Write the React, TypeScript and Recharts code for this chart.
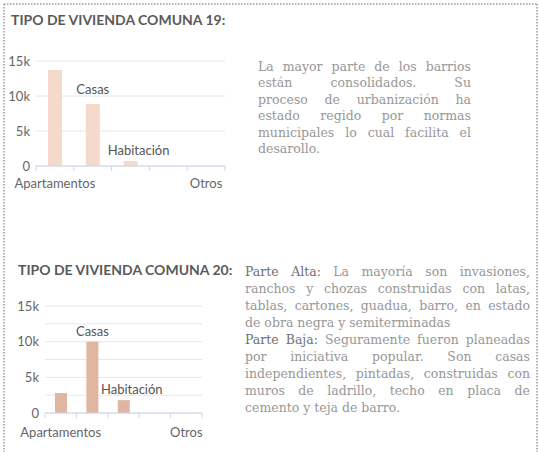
import React from 'react';
import { BarChart, Bar, XAxis, YAxis, CartesianGrid, LabelList } from 'recharts';

const categories = ['Apartamentos', 'Casas', 'Habitación', 'Rancho', 'Otros'];
const comuna19 = [13700, 8850, 700, 0, 0];
const comuna20 = [2800, 10000, 1800, 0, 0];
const ticks19 = [0, 5000, 10000, 15000];
const ticks20 = [0, 2500, 5000, 7500, 10000, 12500, 15000];
const shownAxisLabels = ['Apartamentos', 'Otros'];
const barLabels = ['Casas', 'Habitación'];

const note19 = [
  'La mayor parte de los barrios',
  'están consolidados. Su',
  'proceso de urbanización ha',
  'estado regido por normas',
  'municipales lo cual facilita el',
  'desarollo.',
];

const SANS = 'Lato, "Open Sans", sans-serif';
const SERIF = '"DejaVu Serif", serif';

const buildRows = (values: number[]) => categories.map((name, i) => ({ name, value: values[i] }));

const fmtK = (v: number) => (v === 0 ? '0' : v % 5000 === 0 ? `${v / 1000}k` : '');

const CategoryTick = (props: any) => {
  const { x, y, payload, index, band, labelDy } = props;
  const last = index === categories.length - 1;
  return (
    <g>
      <line x1={x - band / 2} x2={x - band / 2} y1={y - 8} y2={y - 3} stroke="#ccd6eb" />
      {last && <line x1={x + band / 2} x2={x + band / 2} y1={y - 8} y2={y - 3} stroke="#ccd6eb" />}
      {shownAxisLabels.includes(payload.value) && (
        <text x={x} y={y + labelDy} textAnchor="middle" fill="#666" fontSize={13} fontFamily={SANS}>
          {payload.value}
        </text>
      )}
    </g>
  );
};

const NameLabel = (props: any) => {
  const { x, y, width, value, gap } = props;
  if (!barLabels.includes(value)) return null;
  const dx = value === 'Habitación' ? 8 : 0;
  const dy = value === 'Casas' ? gap : 6;
  return (
    <text x={x + width / 2 + dx} y={y - dy} textAnchor="middle" fill="#555" fontSize={13} fontFamily={SANS}>
      {value}
    </text>
  );
};

interface ChartProps {
  values: number[];
  ticks: number[];
  color: string;
  width: number;
  height: number;
  top: number;
  right: number;
  yWidth: number;
  barSize: number;
  labelDy: number;
  casasGap: number;
}

const TipoChart: React.FC<ChartProps> = ({ values, ticks, color, width, height, top, right, yWidth, barSize, labelDy, casasGap }) => {
  const band = (width - right - yWidth) / categories.length;
  return (
    <BarChart width={width} height={height} data={buildRows(values)} margin={{ top, right, bottom: 0, left: 0 }} barCategoryGap={0}>
      <CartesianGrid vertical={false} stroke="#e6e6e6" />
      <XAxis
        dataKey="name"
        interval={0}
        height={34}
        axisLine={{ stroke: '#ccd6eb' }}
        tickLine={false}
        tick={(p: any) => <CategoryTick {...p} band={band} labelDy={labelDy} />}
      />
      <YAxis
        width={yWidth}
        domain={[0, 15000]}
        ticks={ticks}
        interval={0}
        tickFormatter={fmtK}
        axisLine={false}
        tickLine={false}
        tickMargin={0}
        tick={{ fill: '#666', fontSize: 13, fontFamily: SANS }}
      />
      <Bar dataKey="value" fill={color} barSize={barSize} isAnimationActive={false}>
        <LabelList dataKey="name" content={<NameLabel gap={casasGap} />} />
      </Bar>
    </BarChart>
  );
};

const titleStyle: React.CSSProperties = {
  position: 'absolute',
  fontFamily: SANS,
  fontSize: 14,
  fontWeight: 700,
  letterSpacing: 0,
  color: '#5a5a5a',
  whiteSpace: 'nowrap',
  lineHeight: '18px',
};

const paraStyle: React.CSSProperties = {
  position: 'absolute',
  fontFamily: SERIF,
  fontSize: 12.5,
  color: '#979797',
  textAlign: 'justify',
  margin: 0,
};

const strong: React.CSSProperties = { color: '#707070' };

const App: React.FC = () => (
  <div style={{ position: 'absolute', left: 0, top: 0, width: 539, height: 452, background: '#fff', overflow: 'hidden' }}>
    <svg width={539} height={452} style={{ position: 'absolute', left: 0, top: 0 }}>
      <g stroke="#9a9a9a" strokeWidth={1.5} strokeDasharray="1.5 1.5">
        <line x1={4} y1={4} x2={537} y2={4} />
        <line x1={4} y1={4} x2={4} y2={452} />
        <line x1={537} y1={4} x2={537} y2={452} />
      </g>
    </svg>

    <div style={{ ...titleStyle, left: 11, top: 11 }}>TIPO DE VIVIENDA COMUNA 19:</div>
    <div style={{ position: 'absolute', left: 0, top: 0 }}>
      <TipoChart values={comuna19} ticks={ticks19} color="#f5d9ca" width={240} height={200} top={61} right={15} yWidth={36} barSize={14} labelDy={14} casasGap={10} />
    </div>
    <div style={{ ...paraStyle, left: 258, top: 59, width: 213, lineHeight: '16.4px' }}>
      {note19.map((line, i) => (
        <div key={i} style={{ whiteSpace: 'nowrap', textAlignLast: i < note19.length - 1 ? 'justify' : 'left' }}>
          {line}
        </div>
      ))}
    </div>

    <div style={{ ...titleStyle, left: 18, top: 261 }}>TIPO DE VIVIENDA COMUNA 20:</div>
    <div style={{ position: 'absolute', left: 0, top: 250 }}>
      <TipoChart values={comuna20} ticks={ticks20} color="#dfb6a1" width={217} height={197} top={56} right={15} yWidth={45} barSize={12} labelDy={16} casasGap={6} />
    </div>
    <p style={{ ...paraStyle, left: 245, top: 263, width: 285, lineHeight: '17px' }}>
      <span style={strong}>Parte Alta:</span> La mayoría son invasiones, ranchos y chozas construidas con latas, tablas, cartones, guadua, barro, en estado de obra negra y semiterminadas
      <br />
      <span style={strong}>Parte Baja:</span> Seguramente fueron planeadas por iniciativa popular. Son casas independientes, pintadas, construidas con muros de ladrillo, techo en placa de cemento y teja de barro.
    </p>
  </div>
);

export default App;
